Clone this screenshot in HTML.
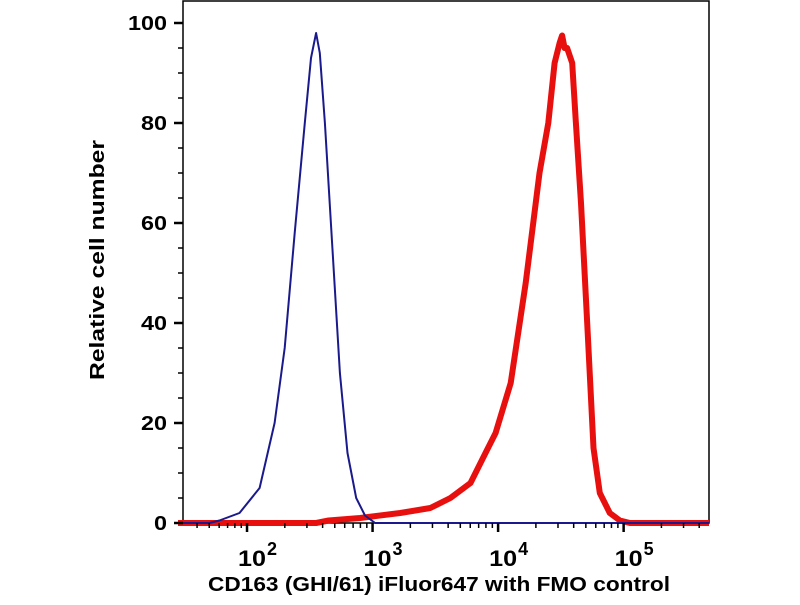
<!DOCTYPE html>
<html><head><meta charset="utf-8"><style>
body{margin:0;background:#fff;width:800px;height:600px;overflow:hidden}
svg{font-family:"Liberation Sans",Arial,sans-serif;font-weight:bold}
</style></head><body>
<svg id="chart" width="800" height="600"></svg>
<script>
const blueX=[1.45,1.7,1.78,1.94,2.10,2.22,2.30,2.38,2.46,2.51,2.55,2.58,2.62,2.68,2.74,2.80,2.87,2.94,3.02,3.2,5.68];
const blueY=[0,0,0.5,2,7,20,35,58,80,93,98,94,80,55,30,14,5,1.5,0,0,0];
const redX=[1.45,2.55,2.65,2.90,3.22,3.46,3.62,3.78,3.90,3.98,4.10,4.22,4.33,4.40,4.45,4.49,4.51,4.53,4.55,4.59,4.62,4.66,4.71,4.76,4.81,4.89,4.97,5.05,5.68];
const redY=[0,0,0.5,1,2,3,5,8,14,18,28,48,70,80,92,96,97.5,95,95,92,80,64,40,15,6,2,0.5,0,0];
const yTicks=[0,20,40,60,80,100];
const xDecades=[2,3,4,5];
const L=183,R=709,T=1,B=523,xmin=1.49,xmax=5.68;
const sx=v=>L+(v-xmin)/(xmax-xmin)*(R-L);
const sy=v=>B-v*5;
const svg=document.getElementById('chart');
const NS='http://www.w3.org/2000/svg';
function mk(t,a,p){const e=document.createElementNS(NS,t);for(const k in a)e.setAttribute(k,a[k]);(p||svg).appendChild(e);return e;}
let e=mk('rect',{x:L,y:T,width:R-L,height:B-T,fill:'none',stroke:'#000','stroke-width':1.5});


function path(xs,ys){return xs.map((x,i)=>(i?'L':'M')+sx(x).toFixed(1)+','+sy(ys[i]).toFixed(1)).join('');}
e=mk('path',{d:path(redX,redY),fill:'none',stroke:'#e8100e','stroke-width':6,'stroke-linejoin':'round'});


e=mk('path',{d:path(blueX,blueY),fill:'none',stroke:'#1a1a8c','stroke-width':2,'stroke-linejoin':'round'});


for(let v=0;v<=100;v+=5){const y=sy(v);const maj=v%20===0;mk('line',{x1:L-(maj?9:5),x2:L,y1:y,y2:y,stroke:'#000','stroke-width':maj?2.5:1.5});}
yTicks.forEach(v=>{e=mk('text',{x:L-16,y:sy(v)+7,'text-anchor':'end','font-size':20,textLength:String(v).length*13,lengthAdjust:'spacingAndGlyphs'});e.textContent=v;

});
for(let d=1;d<=5;d++)for(let m=1;m<10;m++){const v=d+Math.log10(m);if(v<xmin||v>xmax)continue;const x=sx(v);mk('line',{x1:x,x2:x,y1:B,y2:B+(m===1?9:5),stroke:'#000','stroke-width':m===1?2.5:1.5});}
xDecades.forEach(d=>{const x=sx(d);e=mk('text',{x:x-9,y:566,'font-size':22,textLength:28,lengthAdjust:'spacingAndGlyphs'});e.textContent='10';


const s=mk('text',{x:x+20,y:555,'font-size':18});s.textContent=d;

});
e=mk('text',{x:439,y:591,'text-anchor':'middle','font-size':20,textLength:462,lengthAdjust:'spacingAndGlyphs'});e.textContent='CD163 (GHI/61) iFluor647 with FMO control';


e=mk('text',{x:0,y:0,'text-anchor':'middle','font-size':20,textLength:240,lengthAdjust:'spacingAndGlyphs',transform:'translate(104,260) rotate(-90)'});e.textContent='Relative cell number';


</script>
</body></html>
